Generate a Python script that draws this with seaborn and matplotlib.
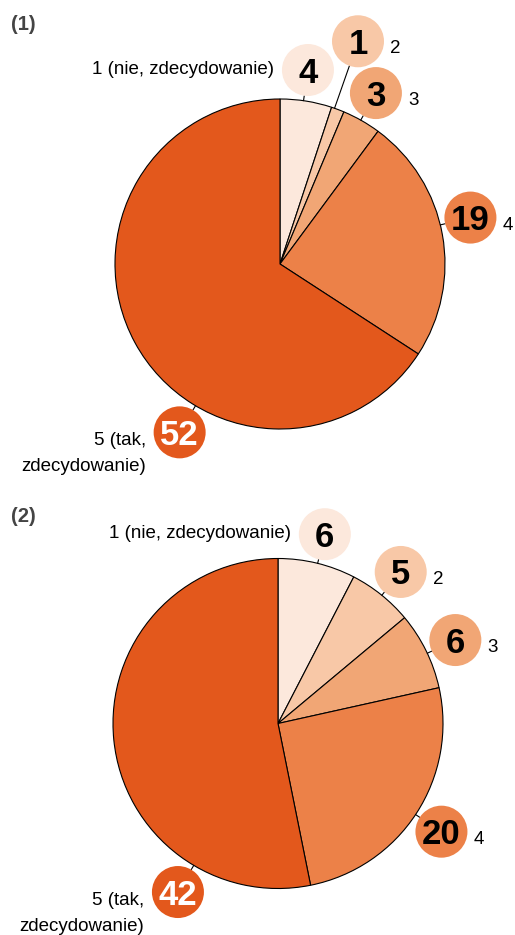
import numpy as np
import matplotlib
matplotlib.use("Agg")
import matplotlib.pyplot as plt
from matplotlib.patches import Circle
import seaborn as sns

# --- data ---
categories = ["1 (nie, zdecydowanie)", "2", "3", "4", "5 (tak,\nzdecydowanie)"]
panel_titles = ["(1)", "(2)"]
values_1 = [4, 1, 3, 19, 52]
values_2 = [6, 5, 6, 20, 42]

slice_colors = ["#FCE8DC", "#F8C8A7", "#F1A675", "#EC8148", "#E3581C"]

# --- layout (pixels, y downwards) ---
panels = [
    {"values": values_1, "center": (280, 264), "radius": 165, "title_y": 24,
     "label_angles": [8.2, 19.3, 29.3, 76.3, 210.8],
     "label_dists": [196, 236, 196, 196, 196]},
    {"values": values_2, "center": (278, 723.5), "radius": 165, "title_y": 516,
     "label_angles": [13.9, 39.0, 64.8, 123.5, 210.7],
     "label_dists": [195, 195, 196, 196, 196]},
]
BUBBLE_R = 26

sns.set_theme(style="white")
plt.rcParams['font.family'] = ['Liberation Sans', 'DejaVu Sans']
plt.rcParams['text.color'] = 'black'
palette = sns.color_palette(slice_colors)

fig = plt.figure(figsize=(5.15, 9.35), dpi=100)
ax = fig.add_axes([0, 0, 1, 1])

for title, panel in zip(panel_titles, panels):
    cx, cy = panel["center"]
    r = panel["radius"]
    vals = panel["values"]

    # y axis is inverted later, so counterclockwise in data = clockwise on screen
    ax.pie(vals, colors=palette, startangle=-90, counterclock=True,
           center=(cx, cy), radius=r,
           wedgeprops=dict(edgecolor="black", linewidth=0.8))

    ax.text(11, panel["title_y"], title, ha="left", va="center",
            fontsize=14.5, fontweight="bold", color="#444444")

    for i, v in enumerate(vals):
        a = np.deg2rad(panel["label_angles"][i])
        d = panel["label_dists"][i]
        bx, by = cx + d * np.sin(a), cy - d * np.cos(a)
        ex, ey = cx + r * np.sin(a), cy - r * np.cos(a)
        tx, ty = cx + (d - BUBBLE_R) * np.sin(a), cy - (d - BUBBLE_R) * np.cos(a)
        ax.plot([ex, tx], [ey, ty], color="black", linewidth=0.8, zorder=2)
        ax.add_patch(Circle((bx, by), BUBBLE_R, facecolor=palette[i],
                            edgecolor="none", zorder=3))
        ax.text(bx, by + 12.5, str(v), ha="center", va="baseline",
                fontsize=25, fontweight="bold",
                color="white" if i == 4 else "black", zorder=4)

        label = categories[i]
        if i == 0:
            ax.text(bx - 34, by + 4, label, ha="right", va="baseline", fontsize=13.5)
        elif i == 4:
            for k, line in enumerate(label.split("\n")):
                ax.text(bx - 34, by + 13 + 26 * k, line, ha="right",
                        va="baseline", fontsize=13.5)
        else:
            ax.text(bx + BUBBLE_R + 6, by + 12, label, ha="left",
                    va="baseline", fontsize=13.5)

ax.set_xlim(0, 515)
ax.set_ylim(935, 0)
ax.set_aspect("equal")
ax.axis("off")

fig.savefig("out.png", dpi=100)
